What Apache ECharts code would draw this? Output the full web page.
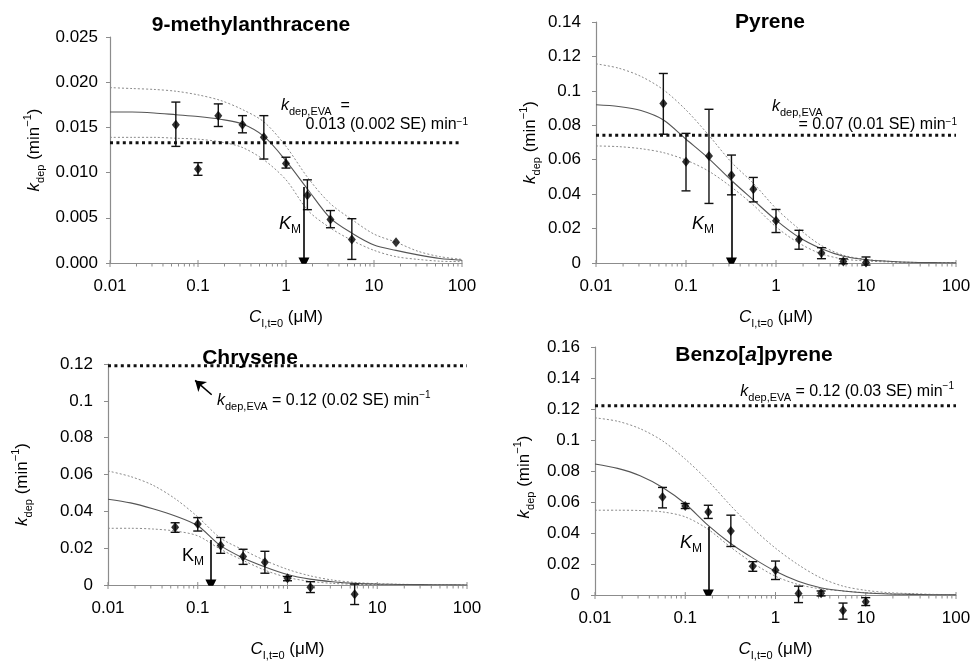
<!DOCTYPE html>
<html><head><meta charset="utf-8">
<script src="https://cdn.jsdelivr.net/npm/echarts@6/dist/echarts.min.js"></script>
<style>html,body{margin:0;padding:0;background:#fff}#c{width:974px;height:662px}</style>
</head><body><div id="c"></div>
<script>
// ---------- data ----------
const xTickLabels = [0.01, 0.1, 1, 10, 100];
const curveX = [0.01, 0.0178, 0.0316, 0.0562, 0.1, 0.178, 0.316, 0.562, 1, 1.78, 3.16, 5.62, 10, 17.8, 31.6, 56.2, 100];

// 9-methylanthracene
const ptsX1 = [0.056, 0.1, 0.17, 0.32, 0.56, 1.0, 1.75, 3.2, 5.6, 17.8];
const ptsY1 = [0.0153, 0.0104, 0.0163, 0.0153, 0.0139, 0.0110, 0.0075, 0.0048, 0.0026, 0.0023];
const errLo1 = [0.0129, 0.0097, 0.0151, 0.0144, 0.0115, 0.0105, 0.0059, 0.0039, 0.0004, null];
const errHi1 = [0.0178, 0.0111, 0.0176, 0.0163, 0.0163, 0.0117, 0.0092, 0.0058, 0.0049, null];
const upper1 = [0.0194, 0.0193, 0.0192, 0.0190, 0.0186, 0.0180, 0.0170, 0.0156, 0.0129, 0.0094, 0.0066, 0.0048, 0.0032, 0.0023, 0.0013, 0.0007, 0.0004];
const fit1   = [0.0167, 0.0167, 0.0166, 0.0164, 0.0162, 0.0159, 0.0154, 0.0140, 0.0113, 0.0081, 0.0050, 0.0033, 0.0020, 0.0014, 0.0009, 0.0005, 0.0003];
const lower1 = [0.0139, 0.0139, 0.0139, 0.0138, 0.0137, 0.0134, 0.0128, 0.0114, 0.0092, 0.0058, 0.0039, 0.0025, 0.0014, 0.0007, 0.0004, 0.0002, 0.00015];
const eva1 = 0.0133, km1 = 1.6, kmTop1 = 0.0084;

// Pyrene
const ptsX2 = [0.056, 0.1, 0.18, 0.32, 0.56, 1, 1.8, 3.2, 5.6, 10];
const ptsY2 = [0.0926, 0.0588, 0.0621, 0.0510, 0.0429, 0.0245, 0.0136, 0.0058, 0.0008, 0.0003];
const errLo2 = [0.0748, 0.0419, 0.0346, 0.0396, 0.0355, 0.0177, 0.0080, 0.0025, -0.0004, -0.0012];
const errHi2 = [0.1101, 0.0753, 0.0893, 0.0627, 0.0497, 0.0311, 0.0190, 0.0089, 0.0024, 0.0035];
const upper2 = [0.1157, 0.1132, 0.1084, 0.1006, 0.0889, 0.0744, 0.0588, 0.0462, 0.0317, 0.0200, 0.0103, 0.0045, 0.0021, 0.0010, 0.0004, 0.0002, 0.0001];
const fit2   = [0.0919, 0.0909, 0.0886, 0.0831, 0.0719, 0.0608, 0.0482, 0.0365, 0.0249, 0.0151, 0.0084, 0.0039, 0.0019, 0.0010, 0.0004, 0.0002, 0.0001];
const lower2 = [0.0680, 0.0676, 0.0664, 0.0641, 0.0598, 0.0534, 0.0443, 0.0336, 0.0210, 0.0117, 0.0054, 0.0023, 0.0012, 0.0006, 0.0002, 0.0001, 0.0000];
const eva2 = 0.0742, km2 = 0.32, kmTop2 = 0.047;

// Chrysene
const ptsX3 = [0.056, 0.1, 0.18, 0.32, 0.56, 1, 1.8, 5.6];
const ptsY3 = [0.0313, 0.0331, 0.0215, 0.0155, 0.0123, 0.0036, -0.0012, -0.0050];
const errLo3 = [0.0286, 0.0293, 0.0172, 0.0112, 0.0064, 0.0023, -0.0041, -0.0106];
const errHi3 = [0.0338, 0.0366, 0.0258, 0.0194, 0.0183, 0.0046, 0.0018, 0.0005];
const upper3 = [0.0619, 0.0589, 0.0542, 0.0468, 0.0370, 0.0256, 0.0192, 0.0133, 0.0085, 0.0050, 0.0027, 0.0014, 0.0007, 0.0004, 0.0002, 0.0001, 0.0000];
const fit3   = [0.0466, 0.0446, 0.0414, 0.0375, 0.0322, 0.0215, 0.0148, 0.0098, 0.0057, 0.0032, 0.0018, 0.0009, 0.0005, 0.0003, 0.0002, 0.0001, 0.0000];
const lower3 = [0.0308, 0.0308, 0.0304, 0.0293, 0.0267, 0.0195, 0.0135, 0.0080, 0.0041, 0.0020, 0.0009, 0.0004, 0.0002, 0.0001, 0.0001, 0.0000, 0.0000];
const eva3 = 0.119, km3 = 0.14, kmTop3 = 0.0245;
const evaArrow3 = [[0.143, 0.1033], [0.0935, 0.1111]];

// Benzo[a]pyrene
const ptsX4 = [0.056, 0.1, 0.18, 0.32, 0.56, 1, 1.8, 3.2, 5.6, 10];
const ptsY4 = [0.0632, 0.0575, 0.0536, 0.0413, 0.0185, 0.0160, 0.0009, 0.0011, -0.0100, -0.0044];
const errLo4 = [0.0562, 0.0558, 0.0494, 0.0313, 0.0153, 0.0100, -0.0049, -0.0006, -0.0156, -0.0068];
const errHi4 = [0.0694, 0.0590, 0.0579, 0.0515, 0.0215, 0.0219, 0.0057, 0.0026, -0.0052, -0.0017];
const upper4 = [0.1143, 0.1121, 0.1073, 0.0994, 0.0877, 0.0738, 0.0579, 0.0430, 0.0302, 0.0196, 0.0111, 0.0057, 0.0030, 0.0015, 0.0009, 0.0004, 0.0002];
const fit4   = [0.0845, 0.0817, 0.0770, 0.0694, 0.0589, 0.0451, 0.0334, 0.0238, 0.0153, 0.0089, 0.0047, 0.0026, 0.0013, 0.0006, 0.0004, 0.0002, 0.0001];
const lower4 = [0.0547, 0.0547, 0.0545, 0.0536, 0.0504, 0.0425, 0.0310, 0.0206, 0.0121, 0.0068, 0.0040, 0.0026, 0.0015, 0.0009, 0.0004, 0.0002, 0.0001];
const eva4 = 0.1221, km4 = 0.18, kmTop4 = 0.044;

// ---------- chart ----------
const FONT = '"Liberation Sans", Arial, sans-serif';
const AX = '#8c8c8c';
const minorTickVals = [];
[0.01, 0.1, 1, 10].forEach(d => { for (let m = 2; m <= 9; m++) minorTickVals.push(+(d * m).toPrecision(3)); });

const panels = [
  {grid: {left: 110, top: 37, width: 352, height: 226}, yMax: 0.025, yInt: 0.005, dec: 3, yGap: 64, xGap: 42, lblM: 12, namePad: [0, 0, 0, 0],
   px: ptsX1, py: ptsY1, lo: errLo1, hi: errHi1, up: upper1, fit: fit1, low: lower1, eva: eva1, km: km1, kmTop: kmTop1},
  {grid: {left: 596, top: 22, width: 360, height: 241}, yMax: 0.14, yInt: 0.02, dec: 2, yGap: 54, xGap: 42, lblM: 15, namePad: [0, 0, 0, 0],
   px: ptsX2, py: ptsY2, lo: errLo2, hi: errHi2, up: upper2, fit: fit2, low: lower2, eva: eva2, km: km2, kmTop: kmTop2},
  {grid: {left: 108, top: 364, width: 359, height: 225}, yMax: 0.12, yInt: 0.02, dec: 2, yGap: 74, xGap: 52, lblM: 15, namePad: [0, 20, 0, 0],
   px: ptsX3, py: ptsY3, lo: errLo3, hi: errHi3, up: upper3, fit: fit3, low: lower3, eva: eva3, km: km3, kmTop: kmTop3},
  {grid: {left: 595, top: 347, width: 361, height: 250}, yMax: 0.16, yInt: 0.02, dec: 2, yGap: 59, xGap: 42, lblM: 15, namePad: [0, 12, 0, 0],
   px: ptsX4, py: ptsY4, lo: errLo4, hi: errHi4, up: upper4, fit: fit4, low: lower4, eva: eva4, km: km4, kmTop: kmTop4}
];

const nameRich = {
  i: {fontStyle: 'italic', fontSize: 17, fontFamily: FONT, color: '#000', lineHeight: 24},
  sub: {fontSize: 11, fontFamily: FONT, color: '#000', verticalAlign: 'bottom', lineHeight: 11},
  sup: {fontSize: 11, fontFamily: FONT, color: '#000', verticalAlign: 'top', lineHeight: 11}
};

function errRender(params, api) {
  const x = api.value(0), lo = api.value(1), hi = api.value(2);
  const a = api.coord([x, hi]), b = api.coord([x, lo]);
  const w = 4.5;
  const st = {stroke: '#111', lineWidth: 1.4};
  return {type: 'group', children: [
    {type: 'line', shape: {x1: a[0], y1: a[1], x2: b[0], y2: b[1]}, style: st},
    {type: 'line', shape: {x1: a[0] - w, y1: a[1], x2: a[0] + w, y2: a[1]}, style: st},
    {type: 'line', shape: {x1: b[0] - w, y1: b[1], x2: b[0] + w, y2: b[1]}, style: st}
  ]};
}
function tickRender(params, api) {
  const p = api.coord([api.value(0), 0]);
  const major = api.value(1) === 1;
  return {type: 'line', shape: {x1: p[0], y1: p[1] + (major ? -3 : 0), x2: p[0], y2: p[1] + (major ? 4 : 3.5)},
    style: {stroke: AX, lineWidth: 1}};
}

const grid = [], xAxis = [], yAxis = [], series = [];
panels.forEach((p, i) => {
  grid.push(p.grid);
  xAxis.push({
    type: 'log', logBase: 10, gridIndex: i, min: 0.01, max: 100,
    axisLine: {lineStyle: {color: AX, width: 1.2}},
    axisTick: {show: false},
    axisLabel: {margin: 15, fontSize: 17, fontFamily: FONT, color: '#000',
      formatter: v => { const e = Math.round(Math.log10(v)); return e < 0 ? Math.pow(10, e).toFixed(-e) : String(Math.pow(10, e)); }},
    splitLine: {show: false},
    name: '{i|C}{sub|I,t=0} (μM)', nameLocation: 'middle', nameGap: p.xGap,
    nameTextStyle: {fontSize: 17, fontFamily: FONT, color: '#000', rich: nameRich}
  });
  yAxis.push({
    type: 'value', gridIndex: i, min: 0, max: p.yMax, interval: p.yInt,
    axisLine: {show: true, lineStyle: {color: AX, width: 1.2}},
    axisTick: {show: true, length: 4, lineStyle: {color: AX}},
    axisLabel: {margin: p.lblM, fontSize: 17, fontFamily: FONT, color: '#000',
      formatter: v => p.dec === 3 ? v.toFixed(3) : (Math.abs(v) < 1e-9 ? '0' : String(+v.toFixed(2)))},
    splitLine: {show: false},
    name: '{i|k}{sub|dep} (min{sup|−1})', nameLocation: 'middle', nameGap: p.yGap, nameRotate: 90,
    nameTextStyle: {fontSize: 17, fontFamily: FONT, color: '#000', rich: nameRich, padding: p.namePad}
  });
  const tickData = xTickLabels.map(v => [v, 1]).concat(minorTickVals.map(v => [v, 0]));
  series.push({type: 'custom', xAxisIndex: i, yAxisIndex: i, renderItem: tickRender, data: tickData, clip: false, silent: true,
    encode: {x: 0}, z: 1});
  const cu = (arr) => curveX.map((x, k) => [x, arr[k]]);
  const curveBase = {type: 'line', xAxisIndex: i, yAxisIndex: i, smooth: 0.3, symbol: 'none', silent: true};
  series.push(Object.assign({}, curveBase, {data: cu(p.up), lineStyle: {color: '#8a8a8a', width: 1, type: [2, 2]}, z: 2}));
  series.push(Object.assign({}, curveBase, {data: cu(p.low), lineStyle: {color: '#8a8a8a', width: 1, type: [2, 2]}, z: 2}));
  series.push(Object.assign({}, curveBase, {data: cu(p.fit), lineStyle: {color: '#555', width: 1.1}, z: 3}));
  series.push({type: 'line', xAxisIndex: i, yAxisIndex: i, data: [[0.01, p.eva], [100, p.eva]], symbol: 'none', silent: true,
    lineStyle: {color: '#111', width: 3, type: [3, 3.4]}, z: 4});
  const eb = [];
  p.px.forEach((x, k) => { if (p.lo[k] !== null && p.hi[k] !== null) eb.push([x, p.lo[k], p.hi[k]]); });
  series.push({type: 'custom', xAxisIndex: i, yAxisIndex: i, renderItem: errRender, data: eb, clip: false, silent: true,
    encode: {x: 0, y: [1, 2]}, z: 5});
  series.push({type: 'scatter', xAxisIndex: i, yAxisIndex: i, data: p.px.map((x, k) => [x, p.py[k]]), clip: false,
    symbol: 'diamond', symbolSize: [8, 10], itemStyle: {color: '#000'}, silent: true, z: 6});
  series.push({type: 'lines', coordinateSystem: 'cartesian2d', xAxisIndex: i, yAxisIndex: i, silent: true,
    data: [{coords: [[p.km, p.kmTop], [p.km, 0]]}], symbol: ['none', 'triangle'], symbolSize: [0, 11],
    lineStyle: {color: '#000', width: 1.6, opacity: 1}, z: 7});
});
series.push({type: 'lines', coordinateSystem: 'cartesian2d', xAxisIndex: 2, yAxisIndex: 2, silent: true,
  data: [{coords: evaArrow3}], symbol: ['none', 'arrow'], symbolSize: [0, 10],
  lineStyle: {color: '#000', width: 1.6, opacity: 1}, z: 7});

const txtRich = {
  i: {fontStyle: 'italic', fontSize: 16, fontFamily: FONT, fill: '#000', lineHeight: 22},
  sub: {fontSize: 11, fontFamily: FONT, fill: '#000', verticalAlign: 'bottom', lineHeight: 11},
  sup: {fontSize: 10, fontFamily: FONT, fill: '#000', verticalAlign: 'top', lineHeight: 10},
  bi: {fontStyle: 'italic', fontWeight: 'bold', fontSize: 21, fontFamily: FONT, fill: '#000'},
  Ki: {fontStyle: 'italic', fontSize: 18, fontFamily: FONT, fill: '#000', lineHeight: 24},
  K: {fontSize: 18, fontFamily: FONT, fill: '#000', lineHeight: 24},
  ks: {fontSize: 12, fontFamily: FONT, fill: '#000', verticalAlign: 'bottom', lineHeight: 12}
};
function T(x, y, text, align) {
  return {type: 'text', x: x, y: y, silent: true, z: 100,
    style: {text: text, align: align || 'left', verticalAlign: 'middle', fontSize: 16, fontFamily: FONT, fill: '#000', rich: txtRich}};
}
function Title(x, y, text) {
  return {type: 'text', x: x, y: y, silent: true, z: 100,
    style: {text: text, align: 'center', verticalAlign: 'middle', fontSize: 21, fontWeight: 'bold', fontFamily: FONT, fill: '#000', rich: txtRich}};
}
const graphic = [
  Title(251, 25, '9-methylanthracene'),
  Title(770, 22, 'Pyrene'),
  Title(250, 358, 'Chrysene'),
  Title(754, 355, 'Benzo[{bi|a}]pyrene'),
  T(281, 106, '{i|k}{sub|dep,EVA}  ='),
  T(468, 125, '0.013 (0.002 SE) min{sup|−1}', 'right'),
  T(772, 107, '{i|k}{sub|dep,EVA}'),
  T(957, 125, '= 0.07 (0.01 SE) min{sup|−1}', 'right'),
  T(217, 401, '{i|k}{sub|dep,EVA} = 0.12 (0.02 SE) min{sup|−1}'),
  T(954, 392, '{i|k}{sub|dep,EVA} = 0.12 (0.03 SE) min{sup|−1}', 'right'),
  T(279, 224, '{Ki|K}{ks|M}'),
  T(692, 224, '{Ki|K}{ks|M}'),
  T(182, 556, '{K|K}{ks|M}'),
  T(680, 543, '{Ki|K}{ks|M}')
];

const chart = echarts.init(document.getElementById('c'), null, {renderer: 'canvas'});
chart.setOption({animation: false, backgroundColor: '#fff', grid: grid, xAxis: xAxis, yAxis: yAxis, series: series, graphic: graphic});
</script></body></html>
